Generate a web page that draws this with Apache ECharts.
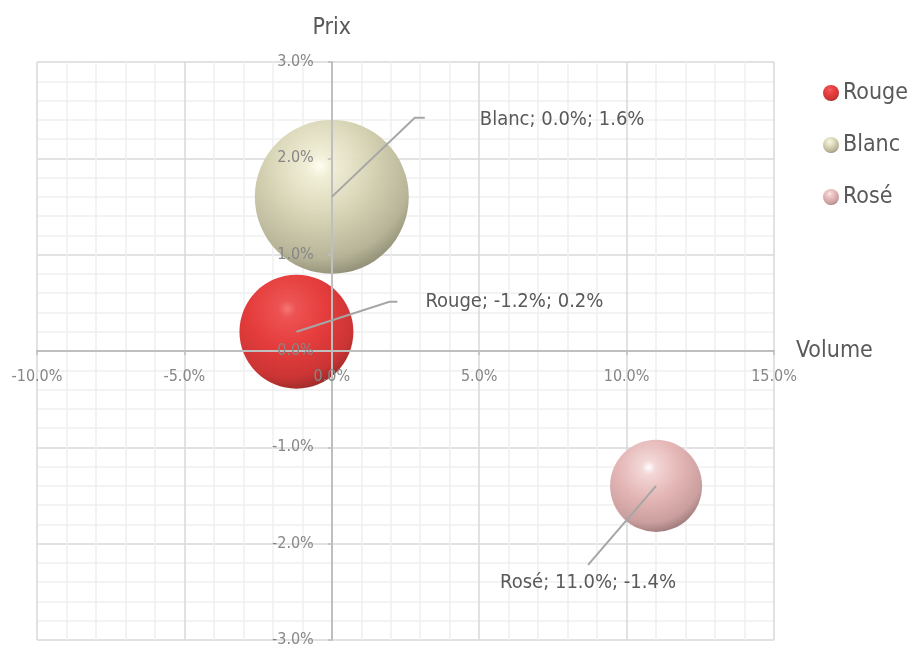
<!DOCTYPE html>
<html>
<head>
<meta charset="utf-8">
<script src="https://cdn.jsdelivr.net/npm/echarts@6/dist/echarts.min.js"></script>
<style>html,body{margin:0;padding:0;background:#fff}#c{width:912px;height:648px}</style>
</head>
<body>
<div id="c"></div>
<script>
// ---- data ----
const seriesNames = ['Rouge', 'Blanc', 'Rosé'];
const volume = [-1.2, 0.0, 11.0];   // x, %
const prix = [0.2, 1.6, -1.4];      // y, %
const bubbleSize = [46, 84, 30];    // relative bubble size
const xRange = [-10, 15, 5];
const yRange = [-3, 3, 1];

// ---- layout & styles ----
const G = {left: 37, right: 138, top: 62, bottom: 8, W: 912, H: 648};
const plotW = G.W - G.left - G.right, plotH = G.H - G.top - G.bottom;
const zeroYOffset = -plotH * (0 - yRange[0]) / (yRange[1] - yRange[0]);  // x-axis moved up to y=0
const zeroXOffset = -plotW * (0 - xRange[0]) / (xRange[1] - xRange[0]);  // y-axis moved right to x=0

const FONT = "'DejaVu Sans Condensed', 'Liberation Sans Narrow', sans-serif";
const palettes = [
  ['#f27070', '#ec4a4a', '#e43232', '#c92a2a', '#8e1e1e'],
  ['#fffdf0', '#f1eed6', '#d5d2b2', '#b3b092', '#817f66'],
  ['#ffffff', '#f3d5d5', '#e3b2b2', '#c99a9a', '#8e6a6a']
];
function sphere(p) {
  return new echarts.graphic.RadialGradient(0.42, 0.3, 0.75, [
    {offset: 0, color: p[0]}, {offset: 0.1, color: p[1]}, {offset: 0.45, color: p[2]},
    {offset: 0.8, color: p[3]}, {offset: 1, color: p[4]}
  ]);
}
const labelLayouts = [
  {elbow: [93, -30], end: [101, -30], text: [129, -30], align: 'left'},
  {elbow: [83, -79], end: [93, -79], text: [148, -77], align: 'left'},
  {elbow: [-68, 79], end: [-68, 79], text: [-68, 97], align: 'center'}
];
const fmt = v => v.toFixed(1) + '%';

const chart = echarts.init(document.getElementById('c'));
const baseX = {type: 'value', min: xRange[0], max: xRange[1], interval: xRange[2]};
const baseY = {type: 'value', min: yRange[0], max: yRange[1], interval: yRange[2]};
const gridAxis = {
  axisLine: {show: false}, axisTick: {show: false}, axisLabel: {show: false},
  splitLine: {show: true, lineStyle: {color: '#d9d9d9', width: 1.5}},
  minorTick: {show: false, splitNumber: 5},
  minorSplitLine: {show: true, lineStyle: {color: '#efefef', width: 1.5}},
  z: 0
};
const overlayAxis = {
  axisLine: {show: true, onZero: false, lineStyle: {color: '#bfbfbf', width: 2}},
  axisTick: {show: true, length: 4, lineStyle: {color: '#bfbfbf', width: 1.5}},
  splitLine: {show: false},
  z: 3
};
const tickLabel = {formatter: fmt, margin: 18, fontFamily: FONT, fontSize: 16, color: '#868686'};
const nameStyle = {fontFamily: FONT, fontSize: 23, color: '#595959'};

const bubbleSeries = seriesNames.map((n, i) => ({
  name: n,
  type: 'scatter',
  xAxisIndex: 0, yAxisIndex: 0,
  data: [[volume[i], prix[i], bubbleSize[i]]],
  symbolSize: d => Math.sqrt(d[2]) * 16.8,
  itemStyle: {color: sphere(palettes[i]), opacity: 0.95},
  emphasis: {disabled: true},
  z: 2
}));

const labelSeries = {
  type: 'custom',
  xAxisIndex: 0, yAxisIndex: 0,
  silent: true,
  z: 5,
  data: seriesNames.map((n, i) => [volume[i], prix[i], i]),
  renderItem: (params, api) => {
    const i = api.value(2);
    const c = api.coord([api.value(0), api.value(1)]);
    const L = labelLayouts[i];
    const txt = seriesNames[i] + '; ' + fmt(volume[i]) + '; ' + fmt(prix[i]);
    return {
      type: 'group',
      children: [
        {type: 'polyline', shape: {points: [c, [c[0] + L.elbow[0], c[1] + L.elbow[1]], [c[0] + L.end[0], c[1] + L.end[1]]]},
         style: {stroke: '#a6a6a6', lineWidth: 2, fill: null}},
        {type: 'text', x: c[0] + L.text[0], y: c[1] + L.text[1],
         style: {text: txt, fill: '#595959', font: '20px ' + FONT, align: L.align, verticalAlign: 'middle'}}
      ]
    };
  }
};

chart.setOption({
  backgroundColor: '#fff',
  animation: false,
  grid: {left: G.left, right: G.right, top: G.top, bottom: G.bottom, containLabel: false, outerBoundsMode: 'none'},
  legend: {
    data: seriesNames,
    orient: 'vertical', left: 818, top: 76,
    icon: 'circle', itemWidth: 16, itemHeight: 16, itemGap: 28,
    textStyle: {fontFamily: FONT, fontSize: 23, color: '#595959', lineHeight: 24, padding: [0, 0, 0, -1]}
  },
  xAxis: [
    Object.assign({}, baseX, gridAxis, {position: 'bottom'}),
    Object.assign({}, baseX, overlayAxis, {
      position: 'bottom', offset: zeroYOffset,
      name: 'Volume', nameLocation: 'end', nameGap: 22,
      nameTextStyle: Object.assign({}, nameStyle, {verticalAlign: 'middle', padding: [0, 0, 5, 0]}),
      axisLabel: tickLabel
    })
  ],
  yAxis: [
    Object.assign({}, baseY, gridAxis, {position: 'left'}),
    Object.assign({}, baseY, overlayAxis, {
      position: 'left', offset: zeroXOffset,
      name: 'Prix', nameLocation: 'end', nameGap: 22,
      nameTextStyle: nameStyle,
      axisLabel: tickLabel
    })
  ],
  series: bubbleSeries.concat([labelSeries])
});
</script>
</body>
</html>
